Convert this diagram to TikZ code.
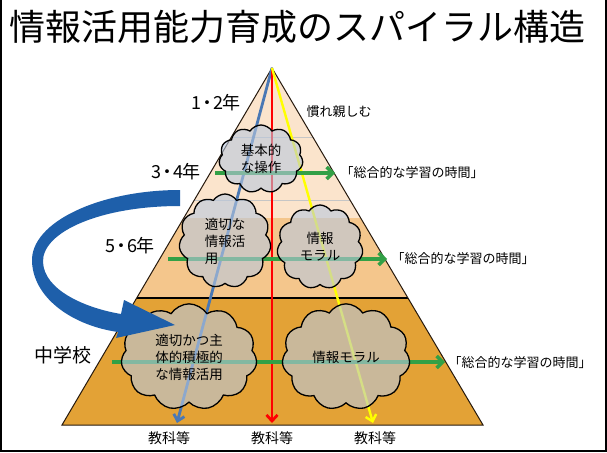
\documentclass[tikz,border=0pt]{standalone}
\usepackage{fontspec}
\setmainfont{Noto Sans CJK JP}
\usetikzlibrary{shapes.symbols,arrows.meta}
\definecolor{bandlight}{RGB}{251,228,204}
\definecolor{bandmid}{RGB}{244,198,140}
\definecolor{bandjh}{RGB}{227,162,54}
\definecolor{kumofill}{RGB}{185,200,222}
\definecolor{midori}{RGB}{50,160,70}
\definecolor{aoline}{RGB}{74,120,180}
\definecolor{kiiro}{RGB}{255,255,0}
\definecolor{rasen}{RGB}{30,95,170}
\tikzset{
  kumo/.style={cloud, cloud puffs=11, cloud puff arc=115, draw=black, line width=1.3pt,
    fill=kumofill, fill opacity=0.6, text opacity=1, inner sep=0pt,
    font=\fontsize{13.5}{17}\selectfont},
  hashira/.style={line width=2.8pt, -{Straight Barb[length=6pt,width=11pt]}},
  yoko/.style={midori, line width=3.5pt, -{Straight Barb[length=6pt,width=12pt]}},
  nen/.style={font=\fontsize{18}{18}\selectfont},
  sogo/.style={anchor=west, font=\fontsize{13}{13}\selectfont},
  kyoka/.style={font=\fontsize{14}{14}\selectfont}
}
\begin{document}
\begin{tikzpicture}[x=1pt,y=-1pt]
\useasboundingbox (0,0) rectangle (607,452);
\fill[white] (0,0) rectangle (607,452);
\draw[line width=1.5pt] (1,0) -- (1,451) -- (606,451) -- (606,0);
% title
\node[anchor=west, font=\fontsize{36}{36}\selectfont] (title) at (6,27) {情報活用能力育成のスパイラル構造};
% pyramid
\coordinate (apex) at (272,68);
\coordinate (bl) at (62,425);
\coordinate (br) at (483,425);
\begin{scope}
\clip (apex) -- (bl) -- (br) -- cycle;
\fill[bandlight] (0,60) rectangle (607,218);
\fill[bandmid] (0,218) rectangle (607,298);
\fill[bandjh] (0,298) rectangle (607,430);
\draw[gray!45, line width=0.6pt] (0,137) -- (607,137);
\draw[gray!45, line width=0.6pt] (0,200) -- (607,200);
\draw[line width=2.6pt] (0,298) -- (607,298);
\end{scope}
\draw[line width=1pt, black!80!brown] (apex) -- (bl) -- (br) -- cycle;
% subject lines
\coordinate (aoend) at (177,423);
\coordinate (akaend) at (272,423);
\coordinate (kiend) at (373,423);
\draw[hashira, aoline] (apex) -- (aoend);
\draw[hashira, red] (apex) -- (akaend);
\draw[hashira, kiiro, line width=2.4pt] (apex) -- (kiend);
% sogo arrows
\coordinate (g1s) at (215,173); \coordinate (g1e) at (335,173);
\coordinate (g2s) at (168,259); \coordinate (g2e) at (387,259);
\coordinate (g3s) at (112,362); \coordinate (g3e) at (445,362);
\draw[yoko] (g1s) -- (g1e);
\draw[yoko] (g2s) -- (g2e);
\draw[yoko] (g3s) -- (g3e);
% clouds
\node[kumo, minimum width=84pt, minimum height=68pt, align=center] (sosa) at (261,159) {基本的\\な操作};
\node[kumo, minimum width=92pt, minimum height=94pt, align=left] (tekisetsu) at (225,241) {適切な\\情報活\\用};
\node[kumo, minimum width=86pt, minimum height=84pt, align=center] (moral1) at (320,247) {情報\\モラル};
\node[kumo, minimum width=136pt, minimum height=106pt, align=center] (shutai) at (189,357) {適切かつ主\\体的積極的\\な情報活用};
\node[kumo, minimum width=128pt, minimum height=102pt] (moral2) at (346,357) {情報モラル};
% labels
\node[nen] (n12) at (216,103) {1\hspace{-3pt}・\hspace{-3pt}2年};
\node[nen] (n34) at (176,172) {3\hspace{-3pt}・\hspace{-3pt}4年};
\node[nen] (n56) at (130,246) {5\hspace{-3pt}・\hspace{-3pt}6年};
\node[nen, font=\fontsize{19}{19}\selectfont] (chu) at (63,355) {中学校};
\node[sogo] (nare) at (303,112) {慣れ親しむ};
\node[sogo] (s1) at (337,173) {「総合的な学習の時間」};
\node[sogo] (s2) at (388,259) {「総合的な学習の時間」};
\node[sogo] (s3) at (445,363) {「総合的な学習の時間」};
\node[kyoka] (k1) at (169,438) {教科等};
\node[kyoka] (k2) at (272,438) {教科等};
\node[kyoka] (k3) at (375,438) {教科等};
% spiral arrow
\fill[rasen] (180,190) .. controls (100,190) and (30,222) .. (32,262)
  .. controls (34,300) and (75,326) .. (118,332) -- (116,338) -- (175,325) -- (124,300)
  -- (121,314) .. controls (85,308) and (44,290) .. (43,262)
  .. controls (42,232) and (100,206) .. (180,206) -- cycle;
\end{tikzpicture}
\end{document}
